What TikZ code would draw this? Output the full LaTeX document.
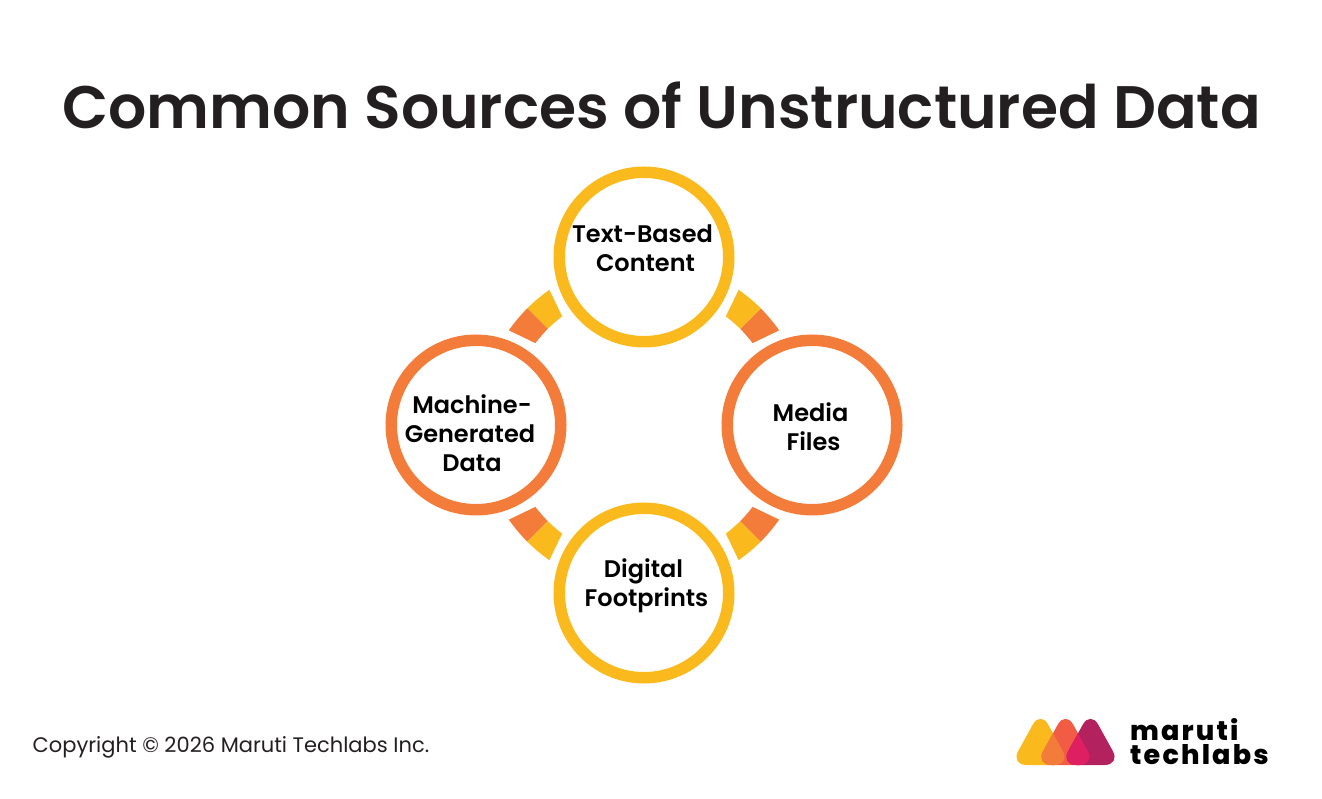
\documentclass[tikz,border=0pt]{standalone}
\usepackage{fontspec}
\setmainfont{Poppins}[BoldFont={Poppins SemiBold}]
\newfontfamily\logofont{Poppins}[UprightFont={* ExtraBold},LetterSpace=8]
\definecolor{myyellow}{HTML}{FABA1D}
\definecolor{myorange}{HTML}{F47C3A}
\definecolor{myred}{HTML}{F25C45}
\definecolor{mypurple}{HTML}{B3215F}
\definecolor{mypink}{HTML}{DE1F62}
\definecolor{myink}{HTML}{231F20}
\tikzset{
  ring/.style={circle,draw=#1,line width=11.5pt,minimum size=169.5pt,inner sep=0pt,outer sep=0pt},
  lab/.style={align=center,font=\fontsize{24}{29}\selectfont\bfseries,text=black,inner sep=0pt},
  drop/.style={rounded corners=16pt}
}
% inner start, outer start, inner end, outer end, colour
\newcommand{\seg}[5]{\fill[#5] (#1:136) arc[start angle=#1,end angle=#3,radius=136] -- (#4:165) arc[start angle=#4,end angle=#2,radius=165] -- cycle;}
\newcommand{\droppath}[1]{(#1-30,1) -- (#1,55.4) -- (#1+30,1) -- cycle}
\begin{document}
\begin{tikzpicture}[x=1pt,y=1pt]
\useasboundingbox (0,0) rectangle (1322,798);
\node[anchor=base,inner sep=0pt,text=myink,font=\fontsize{60}{60}\selectfont\bfseries] (title) at (661.5,669) {Common Sources of Unstructured Data};
\node[ring=myyellow] (top) at (644,541) {};
\node[ring=myorange] (left) at (476,373) {};
\node[ring=myorange] (right) at (812,373) {};
\node[ring=myyellow] (bottom) at (644,205) {};
\node[lab] (t1) at (642.5,550) {Text-Based\\\hspace*{6pt}Content};
\node[lab] (t2) at (470,365) {\hspace*{4pt}Machine-\\Generated\\\hspace*{4pt}Data};
\node[lab] (t3) at (810.5,371) {Media\\\hspace*{6pt}Files};
\node[lab] (t4) at (643.5,212) {Digital\\\hspace*{6pt}Footprints};
\begin{scope}[shift={(644,373)}]
\seg{37}{35}{45}{45}{myorange}\seg{45}{45}{53}{55}{myyellow}
\seg{127}{125}{135}{135}{myyellow}\seg{135}{135}{143}{145}{myorange}
\seg{217}{215}{225}{225}{myorange}\seg{225}{225}{233}{235}{myyellow}
\seg{307}{305}{315}{315}{myyellow}\seg{315}{315}{323}{325}{myorange}
\end{scope}
\node[anchor=base west,inner sep=0pt,text=myink,font=\fontsize{21}{21}\selectfont] (copy) at (32.5,46) {Copyright © 2026 Maruti Techlabs Inc.};
\begin{scope}[shift={(0,32)}]
\fill[myyellow,drop] \droppath{1040.5};
\fill[myred,drop] \droppath{1065.5};
\fill[mypurple,drop] \droppath{1090.5};
\begin{scope}\clip[drop] \droppath{1040.5};\fill[myorange,drop] \droppath{1065.5};\end{scope}
\begin{scope}\clip[drop] \droppath{1065.5};\fill[mypink,drop] \droppath{1090.5};\end{scope}
\end{scope}
\node[anchor=west,align=left,inner sep=0pt,text=black,font=\fontsize{27}{24}\logofont] (logotext) at (1130,56) {maruti\\techlabs};
\end{tikzpicture}
\end{document}
